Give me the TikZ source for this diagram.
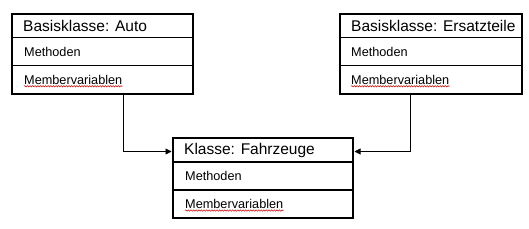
\documentclass[tikz,border=0pt]{standalone}
\usepackage{fontspec}
\setmainfont{Liberation Sans}
\usetikzlibrary{arrows.meta,decorations.pathmorphing}
\begin{document}
\begin{tikzpicture}[x=1pt,y=-1pt,
  rowbox/.style={draw=black, line width=1.4pt, anchor=north west, inner sep=0pt,
    minimum width=#1, outer sep=0pt},
  titletext/.style={anchor=west, inner sep=0pt, font=\fontsize{15.5}{18}\selectfont},
  itemtext/.style={anchor=west, inner sep=0pt, font=\fontsize{12.7}{15}\selectfont},
  outline/.style={draw=black, line width=2.2pt},
  conn/.style={draw=black, line width=0.8pt, -{Triangle[length=6pt,width=6pt]}},
  squig/.style={draw=red!80!black, line width=0.5pt, decorate,
    decoration={snake, segment length=2.6pt, amplitude=0.7pt}}
]
\useasboundingbox (0,0) rectangle (529,228);

% ---- Basisklasse: Auto
\node[rowbox=181pt, minimum height=23.5pt] (autoT) at (12,14) {};
\node[rowbox=181pt, minimum height=28pt] (autoM) at (autoT.south west) {};
\node[rowbox=181pt, minimum height=28.5pt] (autoV) at (autoM.south west) {};
\draw[outline] (autoT.north west) rectangle (autoV.south east);
\node[titletext] (autoTt) at ([xshift=11pt]autoT.west) {Basisklasse: Auto};
\node[itemtext] (autoMt) at ([xshift=12pt]autoM.west) {Methoden};
\node[itemtext] (autoVt) at ([xshift=12pt]autoV.west) {Membervariablen};
\draw[squig] ([yshift=-2pt]autoVt.base west) -- ([yshift=-2pt]autoVt.base east);

% ---- Basisklasse: Ersatzteile
\node[rowbox=182pt, minimum height=23.5pt] (ersT) at (340,14) {};
\node[rowbox=182pt, minimum height=28pt] (ersM) at (ersT.south west) {};
\node[rowbox=182pt, minimum height=28.5pt] (ersV) at (ersM.south west) {};
\draw[outline] (ersT.north west) rectangle (ersV.south east);
\node[titletext] (ersTt) at ([xshift=11pt]ersT.west) {Basisklasse: Ersatzteile};
\node[itemtext] (ersMt) at ([xshift=11pt]ersM.west) {Methoden};
\node[itemtext] (ersVt) at ([xshift=11pt]ersV.west) {Membervariablen};
\draw[squig] ([yshift=-2pt]ersVt.base west) -- ([yshift=-2pt]ersVt.base east);

% ---- Klasse: Fahrzeuge
\node[rowbox=180pt, minimum height=24pt] (fahrT) at (173,138) {};
\node[rowbox=180pt, minimum height=28pt] (fahrM) at (fahrT.south west) {};
\node[rowbox=180pt, minimum height=28pt] (fahrV) at (fahrM.south west) {};
\draw[outline] (fahrT.north west) rectangle (fahrV.south east);
\node[titletext] (fahrTt) at ([xshift=11pt]fahrT.west) {Klasse: Fahrzeuge};
\node[itemtext] (fahrMt) at ([xshift=12pt]fahrM.west) {Methoden};
\node[itemtext] (fahrVt) at ([xshift=12pt]fahrV.west) {Membervariablen};
\draw[squig] ([yshift=-2pt]fahrVt.base west) -- ([yshift=-2pt]fahrVt.base east);

% ---- connectors
\draw[conn] ([xshift=111pt]autoV.south west) |- ([yshift=-1.5pt,xshift=-1.5pt]fahrT.west);
\draw[conn] ([xshift=70pt]ersV.south west) |- ([yshift=-1.5pt,xshift=1.5pt]fahrT.east);
\end{tikzpicture}
\end{document}
